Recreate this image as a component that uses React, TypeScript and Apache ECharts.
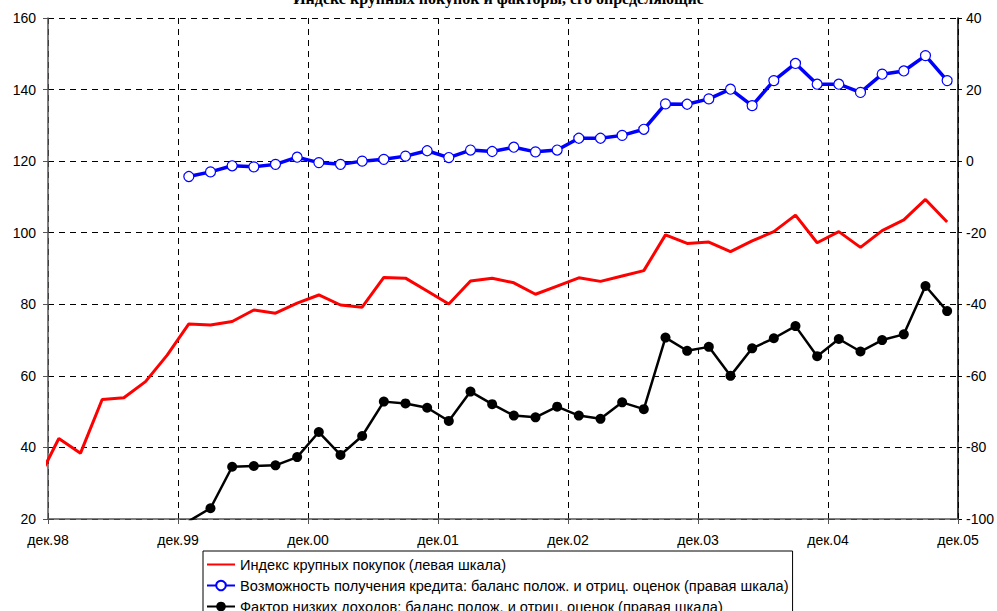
import React, { useEffect, useRef } from "react";
import * as echarts from "echarts";

// x-axis year ticks (every 6 bimonthly periods)
const tickLabels = ["дек.98", "дек.99", "дек.00", "дек.01", "дек.02", "дек.03", "дек.04", "дек.05"];

// Индекс крупных покупок (левая шкала), periods from -1 (before дек.98) to 41
const redStart = -1;
const redValues = [
  30.5, 42.5, 38.4, 53.4, 53.9, 58.4, 65.8, 74.5, 74.2, 75.2, 78.4, 77.5, 80.3, 82.6,
  79.8, 79.2, 87.5, 87.3, 83.7, 80.1, 86.5, 87.3, 86.0, 82.8, 85.1, 87.4, 86.4, 87.9,
  89.4, 99.4, 97.0, 97.4, 94.7, 97.7, 100.3, 104.9, 97.2, 100.3, 95.9, 100.6, 103.6,
  109.3, 103.0,
];

// Возможность получения кредита (правая шкала), periods 6..41
const blueStart = 6;
const blueValues = [
  -4.3, -3.0, -1.3, -1.6, -0.9, 1.1, -0.4, -0.9, 0.0, 0.5, 1.4, 2.9, 1.0, 3.1, 2.7, 3.9,
  2.6, 3.1, 6.4, 6.4, 7.2, 8.9, 16.0, 15.9, 17.4, 20.1, 15.5, 22.5, 27.3, 21.5, 21.5,
  19.2, 24.3, 25.2, 29.5, 22.5,
];

// Фактор низких доходов (правая шкала), periods 6..41
const blackStart = 6;
const blackValues = [
  -100.6, -97.0, -85.4, -85.2, -85.0, -82.7, -75.7, -82.1, -76.8, -67.2, -67.7, -68.9,
  -72.6, -64.4, -67.9, -71.1, -71.6, -68.6, -71.1, -72.0, -67.4, -69.3, -49.3, -53.0,
  -51.9, -60.0, -52.3, -49.5, -46.1, -54.5, -49.7, -53.2, -50.0, -48.4, -34.9, -41.9,
];

const seriesNames = [
  "Индекс крупных покупок (левая шкала)",
  "Возможность получения кредита: баланс полож. и отриц. оценок (правая шкала)",
  "Фактор низких доходов: баланс полож. и отриц. оценок (правая шкала)",
];

const titleText = "Индекс крупных покупок и факторы, его определяющие";

const toPairs = (start: number, vals: number[]) => vals.map((v, i) => [start + i + 0.5, v]);

const FONT = "'Liberation Sans', Arial, sans-serif";

export default function App() {
  const ref = useRef<HTMLDivElement>(null);
  useEffect(() => {
    if (!ref.current) return;
    const chart = echarts.init(ref.current, undefined, { renderer: "svg" });
    const gridLine = { show: true, lineStyle: { color: "#000", width: 1, type: [6, 5] } };
    chart.setOption({
      animation: false,
      backgroundColor: "#fff",
      title: {
        text: titleText,
        left: "center",
        top: -15,
        textStyle: { fontFamily: "'Liberation Serif', serif", fontWeight: "bold", fontSize: 16, color: "#000" },
      },
      grid: { left: 48, right: 39, top: 18, bottom: 92 },
      legend: {
        orient: "vertical",
        left: 203,
        top: 551,
        height: 90,
        padding: [6, 4, 6, 3],
        itemWidth: 28,
        itemHeight: 12,
        itemGap: 6,
        borderColor: "#000",
        borderWidth: 1,
        borderRadius: 0,
        backgroundColor: "#fff",
        textStyle: { fontFamily: FONT, fontSize: 14.6, color: "#000" },
        data: [
          { name: seriesNames[0], itemStyle: { opacity: 0 } },
          { name: seriesNames[1] },
          { name: seriesNames[2] },
        ],
      },
      xAxis: {
        type: "value",
        min: 0,
        max: 42,
        interval: 6,
        axisLine: { show: true, onZero: false, lineStyle: { color: "#555", width: 1.5 } },
        axisTick: { show: true, length: 5, lineStyle: { color: "#555" } },
        axisLabel: {
          margin: 14,
          fontFamily: FONT,
          fontSize: 14,
          color: "#000",
          formatter: (v: number) => tickLabels[Math.round(v / 6)] ?? "",
        },
        splitLine: gridLine,
      },
      yAxis: [
        {
          type: "value",
          min: 20,
          max: 160,
          interval: 20,
          axisLine: { show: true, lineStyle: { color: "#555", width: 1.5 } },
          axisTick: { show: true, length: 5, lineStyle: { color: "#555" } },
          axisLabel: { margin: 12, fontFamily: FONT, fontSize: 14, color: "#000" },
          splitLine: gridLine,
        },
        {
          type: "value",
          min: -100,
          max: 40,
          interval: 20,
          position: "right",
          axisLine: { show: true, lineStyle: { color: "#000", width: 1.5 } },
          axisTick: { show: true, length: 4, lineStyle: { color: "#000" } },
          axisLabel: { margin: 8, fontFamily: FONT, fontSize: 14, color: "#000" },
          splitLine: { show: false },
        },
      ],
      series: [
        {
          name: seriesNames[0],
          type: "line",
          yAxisIndex: 0,
          symbol: "none",
          clip: true,
          lineStyle: { color: "#ff0000", width: 3 },
          itemStyle: { color: "#ff0000" },
          data: toPairs(redStart, redValues),
          z: 3,
        },
        {
          name: seriesNames[1],
          type: "line",
          yAxisIndex: 1,
          symbol: "circle",
          symbolSize: 10,
          clip: true,
          lineStyle: { color: "#0000ff", width: 3.5 },
          itemStyle: { color: "#ffffff", borderColor: "#0000ff", borderWidth: 1.2 },
          data: toPairs(blueStart, blueValues),
          z: 4,
        },
        {
          name: seriesNames[2],
          type: "line",
          yAxisIndex: 1,
          symbol: "circle",
          symbolSize: 10,
          clip: true,
          lineStyle: { color: "#000000", width: 2.5 },
          itemStyle: { color: "#000000" },
          data: toPairs(blackStart, blackValues),
          z: 4,
        },
      ],
    });
    return () => chart.dispose();
  }, []);
  return (
    <div
      ref={ref}
      style={{ position: "fixed", left: 0, top: 0, width: 997, height: 611, background: "#fff" }}
    />
  );
}
